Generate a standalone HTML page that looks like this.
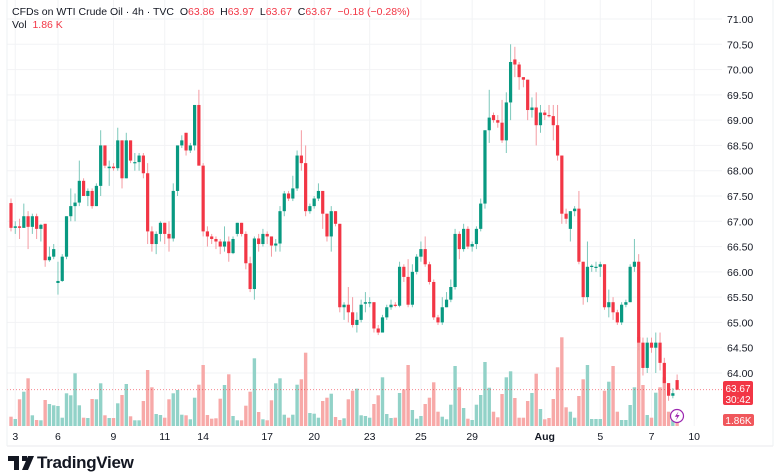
<!DOCTYPE html>
<html><head><meta charset="utf-8"><style>
body{margin:0;background:#fff;width:780px;height:470px;overflow:hidden;font-family:"Liberation Sans",sans-serif}
svg{position:absolute;left:0;top:0}
</style></head><body>
<svg id="c" width="780" height="470"></svg>
<script>
const opens=[67.36,66.87,66.9,66.87,67.1,66.89,67.1,66.85,66.95,66.23,66.3,65.78,65.82,66.3,67.1,67.3,67.37,67.8,67.5,67.6,67.3,67.7,68.5,68.05,68.08,68.05,68.6,67.85,68.6,68.15,68.17,68.3,67.95,66.8,66.55,66.75,66.97,66.75,66.66,67.6,68.5,68.75,68.4,68.5,69.3,68.1,66.8,66.7,66.65,66.6,66.5,66.6,66.37,66.75,66.97,66.75,66.17,65.66,66.66,66.55,66.75,66.7,66.52,66.56,67.2,67.55,67.45,67.65,68.3,68.15,67.2,67.3,67.45,67.6,67.15,66.7,67.2,66.95,65.3,65.35,65.2,64.95,65.05,65.37,65.38,65.4,64.88,64.8,65.1,65.3,65.35,65.33,66.1,65.9,65.35,66.0,66.3,66.45,66.15,65.8,65.1,65.0,65.3,65.45,65.7,66.75,66.45,66.85,66.5,66.55,66.85,67.35,68.8,69.1,69.0,68.95,68.6,69.35,70.2,70.1,69.85,69.8,69.2,69.25,68.9,69.15,69.1,69.08,68.9,68.3,67.15,66.85,67.2,67.25,66.2,65.5,66.1,66.1,66.1,66.15,65.3,65.4,65.2,65.0,65.35,65.4,66.1,66.2,64.6,64.1,64.6,64.5,64.6,64.2,63.8,63.55,63.86];
const closes=[66.87,66.9,66.87,67.1,66.89,67.1,66.85,66.93,66.23,66.3,66.45,65.82,66.3,67.1,67.3,67.37,67.8,67.5,67.6,67.3,67.7,68.5,68.1,68.08,68.05,68.6,67.85,68.6,68.2,68.17,68.3,67.95,66.8,66.55,66.75,66.97,66.75,66.66,67.6,68.5,68.6,68.4,68.5,69.3,68.1,66.8,66.7,66.65,66.6,66.5,66.6,66.37,66.65,66.97,66.75,66.17,65.66,66.66,66.55,66.75,66.7,66.52,66.56,67.2,67.55,67.45,67.65,68.3,68.15,67.2,67.3,67.45,67.6,67.15,66.7,67.2,66.95,65.3,65.35,65.2,64.95,65.05,65.35,65.4,65.4,64.88,64.8,65.1,65.3,65.35,65.33,66.1,65.9,65.35,66.0,66.3,66.45,66.15,65.8,65.1,65.0,65.3,65.45,65.7,66.75,66.45,66.85,66.5,66.55,66.85,67.35,68.8,69.05,69.0,68.95,68.6,69.35,70.15,70.1,69.85,69.8,69.2,69.25,68.9,69.15,69.1,69.08,68.9,68.3,67.15,67.05,67.2,67.25,66.2,65.5,66.1,66.12,66.1,66.15,65.3,65.4,65.2,65.0,65.35,65.4,66.1,66.2,64.6,64.1,64.6,64.5,64.6,64.2,63.8,63.55,63.6,63.67];
const highs=[67.45,67.0,67.05,67.35,67.2,67.15,67.15,66.95,66.95,66.5,66.55,66.2,66.35,67.1,67.65,67.55,68.2,67.85,67.65,67.65,67.75,68.8,68.5,68.2,68.15,68.85,68.6,68.75,68.6,68.35,68.35,68.35,68.15,66.9,66.8,67.0,66.97,67.0,67.75,68.5,68.7,68.75,68.55,69.3,69.6,68.15,66.9,66.75,66.7,66.65,66.9,66.7,66.7,66.97,66.97,66.8,66.3,66.7,66.75,66.85,66.8,66.7,66.65,67.3,67.6,67.6,67.9,68.4,68.8,68.5,67.35,67.5,67.75,67.6,67.15,67.3,67.2,66.95,65.4,65.7,65.5,65.2,65.45,65.6,65.5,65.4,64.95,65.15,65.35,65.45,65.4,66.2,66.15,66.25,66.15,66.35,66.6,66.7,66.2,65.85,65.15,65.5,65.6,65.85,66.85,66.8,66.95,66.9,66.6,66.9,67.45,68.8,69.6,69.15,69.1,69.4,69.55,70.5,70.45,70.15,69.85,69.8,69.45,69.55,69.3,69.2,69.3,69.3,69.3,68.3,67.25,67.2,67.3,67.6,66.2,66.6,66.15,66.2,66.2,66.15,65.65,65.5,65.25,65.4,65.45,66.15,66.65,66.35,64.7,64.7,64.7,64.8,64.8,64.3,63.8,63.7,63.97];
const lows=[66.8,66.75,66.65,66.87,66.45,66.75,66.65,66.6,66.1,66.2,66.25,65.55,65.8,66.25,67.0,67.0,67.3,67.5,67.3,67.25,67.3,67.5,68.05,67.7,68.0,68.0,67.65,67.85,68.15,68.0,68.0,67.85,66.55,66.4,66.35,66.6,66.55,66.4,66.6,67.5,68.45,68.3,68.35,68.4,68.1,66.7,66.5,66.55,66.45,66.35,66.4,66.2,66.35,66.7,66.7,66.05,65.6,65.45,66.4,66.5,66.55,66.3,66.4,66.4,67.1,67.4,67.4,67.6,68.0,67.1,67.15,67.25,67.4,66.85,66.6,66.4,66.9,65.2,65.05,65.0,64.9,64.8,65.0,65.2,65.3,64.8,64.75,64.8,65.05,65.25,65.3,65.3,65.8,65.3,65.3,65.95,66.2,66.1,65.75,65.05,64.95,64.95,65.3,65.4,65.65,66.25,66.4,66.45,66.4,66.45,66.8,67.25,68.55,68.95,68.85,68.55,68.35,69.0,69.85,69.6,69.65,69.0,69.05,68.5,68.75,69.0,69.05,68.6,68.2,66.95,66.95,66.6,67.1,66.15,65.35,65.4,66.0,66.0,65.9,65.25,65.1,65.05,64.95,64.95,65.3,65.4,66.0,64.45,63.95,64.0,64.4,64.0,64.05,63.7,63.45,63.5,63.67];
const volumes=[9.3,7,26.7,34.3,47.7,10.7,6,5.7,26,22,20.7,20,8.3,32.7,30.7,52.7,20.7,8.3,8,27,26.7,42.7,10.7,8,8,22.7,31,42,9.7,5.7,5.7,25,56,38.7,12,11,8.3,26.7,32.7,36,11.3,10.7,6.7,28.3,41.3,61,11,7.3,7.7,27.3,41,51.7,10,5.7,5.7,20.3,34.3,67.7,14,6.7,5.7,25.7,42.7,47.7,11.3,8.3,11.3,41.3,46.7,73.3,13,12.3,8.3,25,28.3,32.3,9,6,7.7,26.7,35.3,37.3,10.7,10,8.3,22,30.7,48.7,12,8,8.3,33,36.7,61,16,7.3,10,22,28.3,43.7,14.3,9.3,6.7,21.3,60,38.7,18,7.3,6,21.3,31,64,38.3,14.3,8.7,32,48.7,54.7,28,8.3,8.3,25,33,52.3,17,6.7,8,27,58.7,88.7,18.7,14.3,8.3,30,46.7,61,7,7,7,35.3,44.3,60,14.3,6,6,21,38.7,89,41,11,8.3,33.3,38.7,48.7,14.3,6,4];
const priceTicks=["71.00","70.50","70.00","69.50","69.00","68.50","68.00","67.50","67.00","66.50","66.00","65.50","65.00","64.50","64.00"];
const dateLabels=["3","6","9","11","14","17","20","23","25","29","Aug","5","7","10"];
const dateIdx=[1,11,24,36,45,60,71,84,96,108,125,138,150,160];

const NS="http://www.w3.org/2000/svg";
const svg=document.getElementById('c');
function mk(t,a,p){const e=document.createElementNS(NS,t);for(const k in a)e.setAttribute(k,a[k]);(p||svg).appendChild(e);return e;}
const yP=p=>19+(71-p)*50.57;
const xI=i=>11+i*4.27;
const yV=v=>426-v;
const G="#089981",R="#f23645",GV="#92d2c8",RV="#f7a9a8";

// grid
const grid=mk('g',{});
priceTicks.forEach(t=>{const y=yP(parseFloat(t));mk('line',{x1:7,x2:722,y1:y,y2:y,stroke:'#f2f3f5','stroke-width':1},grid);});
dateIdx.forEach(i=>{const x=xI(i)+(i===1?0:0);mk('line',{x1:x,x2:x,y1:0,y2:426,stroke:'#f2f3f5','stroke-width':1},grid);});

// volume
const vg=mk('g',{});
volumes.forEach((v,i)=>{const up=closes[i]>=opens[i];
 const r=mk('rect',{x:xI(i)-1.7,y:yV(v),width:3.4,height:426-yV(v),fill:up?GV:RV},vg);
 
 });

// price line
mk('line',{x1:7,x2:722,y1:yP(63.67),y2:yP(63.67),stroke:'#f23645','stroke-width':1,'stroke-dasharray':'1 2',opacity:0.6});

// candles
const cg=mk('g',{});
opens.forEach((o,i)=>{const c=closes[i];const up=c>=o;const col=up?G:R;const x=xI(i);
 const w=mk('line',{x1:x,x2:x,y1:yP(highs[i]),y2:yP(lows[i]),stroke:up?'#7cc8bb':'#f49ba2','stroke-width':1},cg);
 
 
 const top=yP(Math.max(o,c)),bot=yP(Math.min(o,c));
 const b=mk('rect',{x:x-1.6,y:top,width:3.2,height:Math.max(1.2,bot-top),fill:col},cg);
 
 });

// price axis labels
const pa=mk('g',{});
priceTicks.forEach(t=>{const e=mk('text',{x:727,y:yP(parseFloat(t))+4,'font-size':10.5,fill:'#131722'},pa);e.textContent=t;});
// date axis
const da=mk('g',{});
dateLabels.forEach((t,k)=>{const e=mk('text',{x:xI(dateIdx[k]),y:440,'font-size':10.5,fill:'#131722','text-anchor':'middle','font-weight':t==='Aug'?'bold':'normal'},da);e.textContent=t;});
</script>
<svg width="780" height="470" style="pointer-events:none">
 <line x1="7" y1="446" x2="773" y2="446" stroke="#e8e9ec"/>
 <line x1="7" y1="0" x2="7" y2="446" stroke="#eef0f3"/>
 <line x1="773" y1="0" x2="773" y2="446" stroke="#eef0f3"/>
 <g>
  <rect x="723" y="381" width="30" height="24" rx="2" fill="#f23645"/>
  <text x="738" y="392" font-size="10" fill="#fff" text-anchor="middle" font-family="Liberation Sans">63.67</text>
  <text x="738" y="403" font-size="10" fill="#fff" text-anchor="middle" font-family="Liberation Sans">30:42</text>
 </g>
 <g>
  <rect x="723" y="414" width="31" height="12" rx="2" fill="#f0575c"/>
  <text x="738.5" y="424" font-size="10" fill="#fff" text-anchor="middle" font-family="Liberation Sans">1.86K</text>
 </g>
 <g>
  <circle cx="677" cy="416" r="6.5" fill="#fff" stroke="#9c27b0" stroke-width="1.2"/>
  <path d="M678.5 411.5 L674.8 416.8 L677.3 416.8 L675.8 420.5 L679.6 415 L677.1 415 Z" fill="#9c27b0"/>
 </g>
</svg>
<div style="position:absolute;left:12px;top:6px;font-size:10.5px;color:#131722;white-space:nowrap">CFDs on WTI Crude Oil · 4h · TVC&nbsp; O<span style="color:#f23645">63.86</span>&nbsp; H<span style="color:#f23645">63.97</span>&nbsp; L<span style="color:#f23645">63.67</span>&nbsp; C<span style="color:#f23645">63.67</span>&nbsp; <span style="color:#f23645">−0.18 (−0.28%)</span></div>
<div style="position:absolute;left:12px;top:19px;font-size:10.5px;color:#131722">Vol&nbsp; <span style="color:#f23645">1.86 K</span></div>
<div style="position:absolute;left:8px;top:455px;height:16px;display:flex;align-items:center">
 <svg width="26" height="14" style="position:static"><path d="M0 0h11v14H6V5H0z M14 0h5v5h-5z M20 0h6l-6 14h-6z" fill="#131722"/></svg>
 <span style="font-size:17px;font-weight:bold;color:#131722;margin-left:3px;letter-spacing:-0.3px">TradingView</span>
</div>
</body></html>
